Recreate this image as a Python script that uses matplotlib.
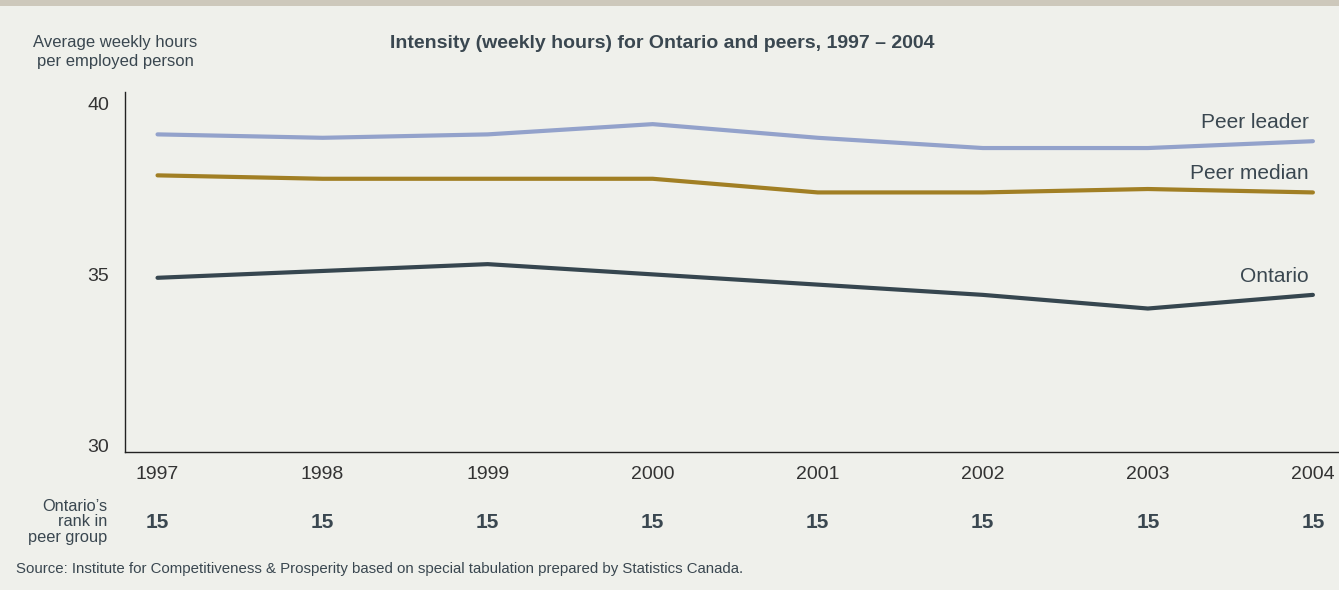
"""Intensity (weekly hours) for Ontario and its peer group, 1997-2004."""

import matplotlib.pyplot as plt
from matplotlib.patches import Rectangle
from matplotlib.transforms import blended_transform_factory, offset_copy

plt.rcParams["font.family"] = ["Liberation Sans", "DejaVu Sans"]

years = [1997, 1998, 1999, 2000, 2001, 2002, 2003, 2004]
peer_leader = [39.1, 39.0, 39.1, 39.4, 39.0, 38.7, 38.7, 38.9]
peer_median = [37.9, 37.8, 37.8, 37.8, 37.4, 37.4, 37.5, 37.4]
ontario = [34.9, 35.1, 35.3, 35.0, 34.7, 34.4, 34.0, 34.4]
ontario_rank = [15, 15, 15, 15, 15, 15, 15, 15]

series = [
    ("Peer leader", peer_leader, "#93a2cb"),
    ("Peer median", peer_median, "#a17f24"),
    ("Ontario", ontario, "#36464f"),
]

BG = "#eff0eb"
TEXT = "#3a4750"

fig = plt.figure(figsize=(13.39, 5.9), dpi=100, facecolor=BG)
fig.patches.append(
    Rectangle((0, 1 - 6 / 590), 1, 6 / 590, transform=fig.transFigure,
              facecolor="#cdc8bb", edgecolor="none")
)

ax = fig.add_axes([0.093, 0.234, 0.906, 0.610])
ax.set_facecolor(BG)

label_tf = offset_copy(ax.transData, fig=fig, x=-4, y=0, units="dots")
for name, values, color in series:
    ax.plot(years, values, color=color, linewidth=3.0, solid_capstyle="round",
            solid_joinstyle="miter")
    ax.text(2004.0, values[-1] + 0.55, name, transform=label_tf, ha="right",
            va="center", fontsize=15, color=TEXT)

ax.set_xlim(1996.8, 2004.15)
ax.set_ylim(29.8, 40.34)
ax.set_xticks(years)
ax.set_yticks([30, 35, 40])
ax.tick_params(axis="x", length=0, pad=10, labelsize=14, labelcolor="#333333")
ax.tick_params(axis="y", length=0, pad=11, labelsize=14, labelcolor="#333333")
for side in ("top", "right"):
    ax.spines[side].set_visible(False)
for side in ("left", "bottom"):
    ax.spines[side].set_color("#222222")
    ax.spines[side].set_linewidth(1.0)

fig.text(115 / 1339, 1 - 52 / 590, "Average weekly hours\nper employed person",
         ha="center", va="center", fontsize=12, color=TEXT, linespacing=1.4)
fig.text(662 / 1339, 1 - 43 / 590,
         "Intensity (weekly hours) for Ontario and peers, 1997 \u2013 2004",
         ha="center", va="center", fontsize=14, fontweight="bold", color=TEXT)

# Ontario's rank row under the year labels
rank_tf = blended_transform_factory(ax.transData, fig.transFigure)
for year, rank in zip(years, ontario_rank):
    ax.text(year, 1 - 522 / 590, str(rank), transform=rank_tf, ha="center",
            va="center", fontsize=15, fontweight="bold", color=TEXT)
fig.text(107 / 1339, 1 - 522 / 590, "Ontario\u2019s\nrank in\npeer group",
         ha="right", va="center", fontsize=11.8, color=TEXT, linespacing=1.08)

fig.text(16 / 1339, 1 - 569 / 590,
         "Source: Institute for Competitiveness & Prosperity based on special "
         "tabulation prepared by Statistics Canada.",
         ha="left", va="center", fontsize=10.8, color=TEXT)

fig.savefig("out.png", dpi=100, facecolor=BG)
